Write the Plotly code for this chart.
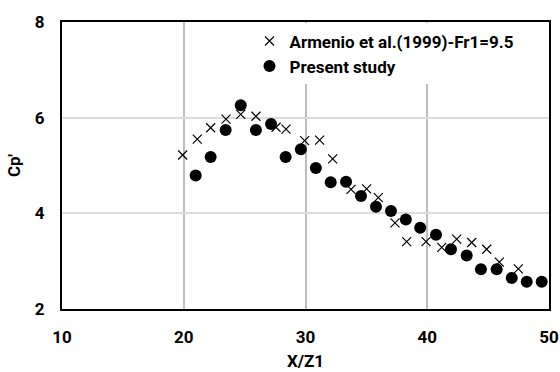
import plotly.graph_objects as go

# Armenio et al. (1999), Fr1 = 9.5
armenio_x = [19.91, 21.11, 22.21, 23.47, 24.68, 25.93, 27.58, 28.40, 29.93, 31.16,
             32.23, 33.74, 35.02, 35.98, 37.35, 38.31, 39.90, 41.19, 42.42, 43.65,
             44.88, 45.92, 47.48]
armenio_cp = [5.22, 5.55, 5.79, 5.97, 6.07, 6.03, 5.80, 5.76, 5.52, 5.53,
              5.14, 4.50, 4.51, 4.33, 3.80, 3.41, 3.41, 3.29, 3.46, 3.39,
              3.25, 2.98, 2.84]

# Present study
present_x = [20.98, 22.21, 23.44, 24.68, 25.93, 27.17, 28.37, 29.62, 30.85, 32.07,
             33.33, 34.56, 35.79, 37.02, 38.24, 39.42, 40.72, 41.95, 43.24, 44.41,
             45.70, 46.94, 48.17, 49.40]
present_cp = [4.79, 5.18, 5.74, 6.26, 5.74, 5.87, 5.18, 5.34, 4.95, 4.65,
              4.66, 4.36, 4.14, 4.05, 3.87, 3.70, 3.55, 3.25, 3.12, 2.83,
              2.83, 2.65, 2.57, 2.57]

x_ticks = [10, 20, 30, 40, 50]
y_ticks = [2, 4, 6, 8]

FONT = "Roboto, Liberation Sans, Arial"

fig = go.Figure()
fig.add_trace(go.Scatter(
    x=armenio_x, y=armenio_cp, mode="markers",
    name="Armenio et al.(1999)-Fr1=9.5",
    marker=dict(symbol="x-thin", size=9, color="black",
                line=dict(color="black", width=1.2)),
))
fig.add_trace(go.Scatter(
    x=present_x, y=present_cp, mode="markers",
    name="Present study",
    marker=dict(symbol="circle", size=12, color="black"),
))

fig.update_layout(
    width=560, height=372,
    margin=dict(l=62, r=11, t=22, b=63, autoexpand=False),
    paper_bgcolor="white", plot_bgcolor="white",
    font=dict(family=FONT, size=17, color="black"),
    showlegend=True,
    legend=dict(
        x=0.385, y=0.995, xanchor="left", yanchor="top",
        bgcolor="white", borderwidth=0,
        font=dict(family=FONT, size=17, color="black", weight="bold"),
        itemwidth=30, tracegroupgap=0,
    ),
)
fig.update_xaxes(
    range=[10, 50], tickvals=x_ticks, ticks="",
    showgrid=True, gridcolor="#bdbdbd", gridwidth=1.5,
    showline=True, linecolor="black", linewidth=2, mirror=True,
    zeroline=False, ticklabelstandoff=12, automargin=False,
    tickfont=dict(family=FONT, size=17, weight="bold"),
    title=dict(text="<b>X/Z1</b>", standoff=9, font=dict(family=FONT, size=17)),
)
fig.update_yaxes(
    range=[2, 8], tickvals=y_ticks, ticks="",
    showgrid=True, gridcolor="#dcdcdc", gridwidth=1.5,
    showline=True, linecolor="black", linewidth=2, mirror=True,
    zeroline=False, ticklabelstandoff=12, automargin=False,
    tickfont=dict(family=FONT, size=17, weight="bold"),
    title=dict(text="<b>Cp'</b>", standoff=10, font=dict(family=FONT, size=17)),
)

fig.write_html("out.html")
